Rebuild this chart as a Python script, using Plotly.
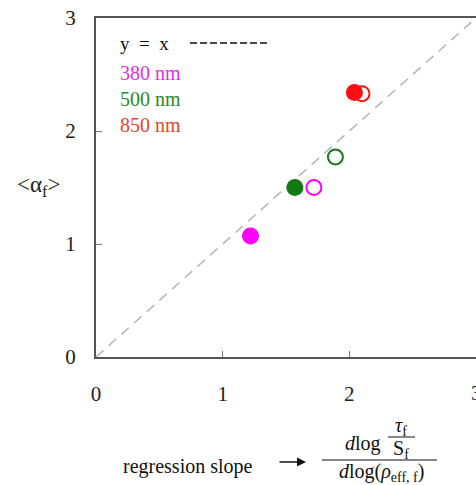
import plotly.graph_objects as go

# Mean alpha_f versus regression slope, per wavelength
wavelengths = ["380 nm", "500 nm", "850 nm"]
colors = ["#ff00ff", "#137a13", "#ff1010"]
label_colors = ["#e62ee6", "#2a8a2a", "#e8452a"]
slope_filled = [1.22, 1.57, 2.04]
alpha_filled = [1.07, 1.50, 2.34]
slope_open = [1.72, 1.89, 2.10]
alpha_open = [1.50, 1.77, 2.33]
diag = [0, 3]
ticks = [0, 1, 2, 3]

W, H = 476, 485
L, R, T, B = 96, 0, 18, 128
PW, PH = W - L - R, H - T - B


def px(x):
    return (x - L) / PW


def py(y):
    return (H - B - y) / PH


serif = "Liberation Serif, Times New Roman, serif"

fig = go.Figure()
fig.add_trace(go.Scatter(x=diag, y=diag, mode="lines",
                         line=dict(color="#b4b4b4", width=1.5, dash="10px,7px"),
                         hoverinfo="skip", showlegend=False))
for i, w in enumerate(wavelengths):
    fig.add_trace(go.Scatter(x=[slope_open[i]], y=[alpha_open[i]], mode="markers",
                             marker=dict(size=15, color="rgba(0,0,0,0)",
                                         line=dict(color=colors[i], width=2)),
                             name=w, showlegend=False))
    fig.add_trace(go.Scatter(x=[slope_filled[i]], y=[alpha_filled[i]], mode="markers",
                             marker=dict(size=17, color=colors[i], line=dict(width=0)),
                             name=w, showlegend=False))

tick_font = dict(family=serif, size=21, color="#222222")
axis_common = dict(range=[0, 3], tickvals=ticks, ticktext=[str(t) for t in ticks],
                   showgrid=False, zeroline=False, showline=True, mirror=True,
                   linecolor="#555555", linewidth=2, ticks="inside", ticklen=6,
                   tickcolor="#777777", tickwidth=1, tickfont=tick_font,
                   automargin=False, fixedrange=True)
fig.update_xaxes(**axis_common, ticklabelstandoff=17)
fig.update_yaxes(**axis_common, ticklabelstandoff=14)

ann = []
# last x tick label sits on the right edge of the figure
ann.append(dict(x=1.0, y=py(393), text=str(ticks[-1]), xanchor="center", yanchor="middle",
                font=tick_font))
# in-plot key
ann.append(dict(x=px(118), y=py(44), text="y  =  x", xanchor="left", yanchor="middle",
                font=dict(family=serif, size=19, color="#111111")))
for i, w in enumerate(wavelengths):
    ann.append(dict(x=px(118), y=py(73 + 26 * i), text=w, xanchor="left", yanchor="middle",
                    font=dict(family=serif, size=20, color=label_colors[i])))
# y-axis title
ann.append(dict(x=px(38), y=py(186), text="&lt;α<sub>f</sub>&gt;", xanchor="center",
                yanchor="middle", font=dict(family=serif, size=23, color="#222222")))
# x-axis title: regression slope -> fraction
ann.append(dict(x=px(188), y=py(467), text="regression slope", xanchor="center",
                yanchor="middle", font=dict(family=serif, size=20, color="#111111")))
ann.append(dict(x=px(306), y=py(462), ax=-28, ay=0,
                text="", showarrow=True, arrowhead=2, arrowsize=1.2, arrowwidth=1.5,
                arrowcolor="#111111"))
ann.append(dict(x=px(363), y=py(443), text="<i>d</i>log", xanchor="center", yanchor="middle",
                font=dict(family=serif, size=20, color="#111111")))
ann.append(dict(x=px(401), y=py(426), text="<i>τ</i><sub>f</sub>", xanchor="center",
                yanchor="middle", font=dict(family=serif, size=20, color="#111111")))
ann.append(dict(x=px(401), y=py(449), text="S<sub>f</sub>", xanchor="center", yanchor="middle",
                font=dict(family=serif, size=20, color="#111111")))
ann.append(dict(x=px(381), y=py(472), text="<i>d</i>log(<i>ρ</i><sub>eff, f</sub>)",
                xanchor="center", yanchor="middle",
                font=dict(family=serif, size=20, color="#111111")))
for a in ann:
    a.setdefault("xref", "paper")
    a.setdefault("yref", "paper")
    a.setdefault("showarrow", False)

shapes = [
    # dashed sample for the y = x key
    dict(type="line", xref="paper", yref="paper", x0=px(190), x1=px(270), y0=py(43), y1=py(43),
         line=dict(color="#111111", width=1.5, dash="7px,3px")),
    # main fraction bar
    dict(type="line", xref="paper", yref="paper", x0=px(322), x1=px(437), y0=py(460), y1=py(460),
         line=dict(color="#111111", width=1.2)),
    # inner fraction bar
    dict(type="line", xref="paper", yref="paper", x0=px(388), x1=px(415), y0=py(437), y1=py(437),
         line=dict(color="#111111", width=1)),
]

fig.update_layout(width=W, height=H, margin=dict(l=L, r=R, t=T, b=B),
                  paper_bgcolor="white", plot_bgcolor="white",
                  annotations=ann, shapes=shapes, showlegend=False)
fig.write_html("out.html")
